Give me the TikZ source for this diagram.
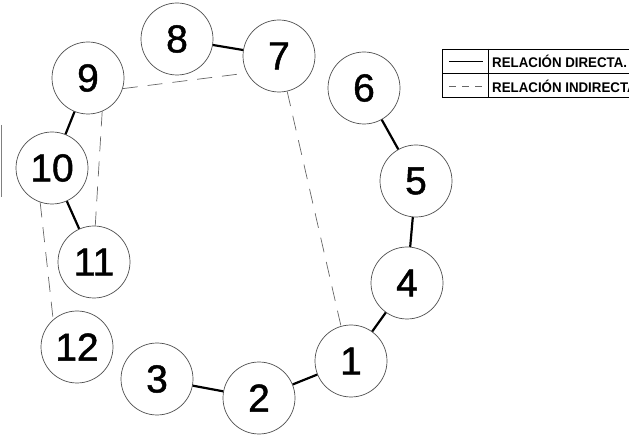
\documentclass[tikz,border=0pt]{standalone}
\usepackage{fontspec}
\setmainfont{Liberation Sans}
\newfontfamily\digitos[FakeBold=1.2]{Liberation Sans}

\begin{document}
\begin{tikzpicture}[x=1pt, y=-1pt,
  estado/.style={circle, draw=black!70, line width=0.7pt, minimum size=72pt,
    inner sep=0pt, font=\digitos\fontsize{39}{39}\selectfont},
  directa/.style={line width=2.2pt},
  indirecta/.style={draw=black!60, line width=0.7pt, dash pattern=on 15pt off 10pt},
  leyenda/.style={anchor=west, inner sep=0pt, font=\bfseries\fontsize{14}{14}\selectfont}]
  \clip (0,0) rectangle (629,435);
  % estados
  \foreach \n/\x/\y in {1/351/361, 2/259/398, 3/157/379, 4/407/283, 5/416/181,
      6/364/88, 7/279/56, 8/177/39, 9/88/78, 10/52/168, 11/94/262, 12/77/347} {
    \node[estado] (n\n) at (\x,\y) {\n};
  }
  % relaciones directas
  \foreach \a/\b in {8/7, 6/5, 5/4, 4/1, 1/2, 2/3, 9/10, 10/11} {
    \draw[directa] (n\a) -- (n\b);
  }
  % relaciones indirectas
  \draw[indirecta] (n9.-17) -- (n7.-152);
  \draw[indirecta] (n7.-77) -- (n1.106);
  \draw[indirecta] (n9.-67) -- (n11.88);
  \draw[indirecta] (n10.-109) -- (n12.131);
  % leyenda
  \draw[line width=0.6pt] (442,49) rectangle (660,97);
  \draw[line width=0.6pt] (442,73) -- (660,73);
  \draw[line width=0.6pt] (488,49) -- (488,97);
  \draw[line width=0.7pt] (449,61) -- (483,61);
  \draw[indirecta, dash pattern=on 7pt off 6pt] (449,86) -- (485,86);
  \node[leyenda] (ley1) at (492,61) {\scalebox{0.95}[1]{RELACIÓN DIRECTA.}};
  \node[leyenda] (ley2) at (492,86) {\scalebox{0.95}[1]{RELACIÓN INDIRECTA.}};
  % trazo suelto
  \draw[black!50, line width=1pt] (1,125) -- (1,197);
\end{tikzpicture}
\end{document}
